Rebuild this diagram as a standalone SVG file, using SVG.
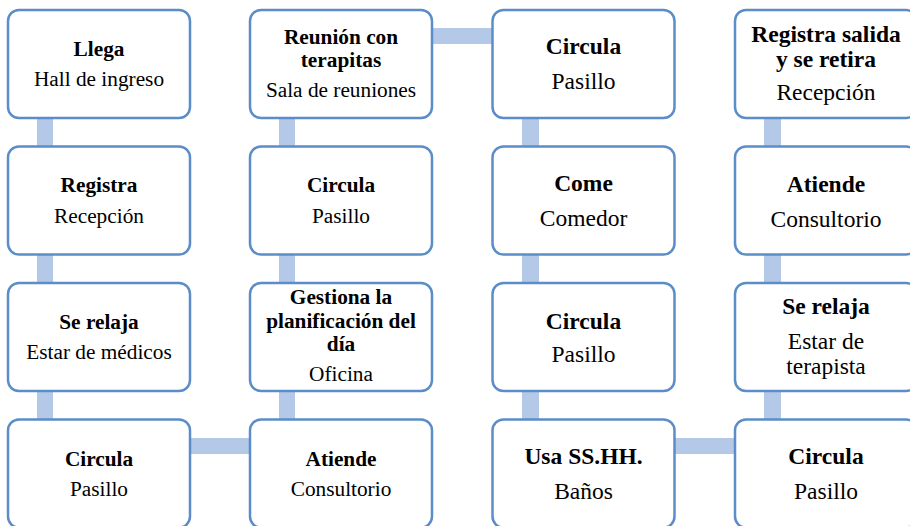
<svg xmlns="http://www.w3.org/2000/svg" width="910" height="526" viewBox="0 0 910 526">
<style>
.box{fill:#fff;stroke:#5B8DC8;stroke-width:2.5}
.con{fill:#B4C9E8}
text{fill:#000;text-anchor:middle}
.s{font-size:21.3px}
.l{font-size:23.5px}
.b{font-weight:bold}
</style>
<rect width="910" height="526" fill="#fff"/>
<g id="connectors">
<rect class="con" x="37" y="64" width="16" height="410"/>
<rect class="con" x="279" y="64" width="16" height="410"/>
<rect class="con" x="522" y="64" width="17" height="410"/>
<rect class="con" x="764" y="64" width="17" height="410"/>
<rect class="con" x="100" y="438" width="242" height="16"/>
<rect class="con" x="342" y="28" width="242" height="16"/>
<rect class="con" x="584" y="438" width="242" height="16"/>
</g>
<g id="nodes" font-family="'Liberation Serif', Tinos, 'Times New Roman', Times, 'DejaVu Serif', 'Noto Serif', serif">
<g id="n1"><rect class="box" x="8" y="10" width="182" height="108" rx="11"/>
<text class="s b" x="99" y="56">Llega</text><text class="s" x="99" y="86">Hall de ingreso</text></g>
<g id="n2"><rect class="box" x="8" y="146.5" width="182" height="108" rx="11"/>
<text class="s b" x="99" y="192">Registra</text><text class="s" x="99" y="222.5">Recepción</text></g>
<g id="n3"><rect class="box" x="8" y="283" width="182" height="108" rx="11"/>
<text class="s b" x="99" y="328.5">Se relaja</text><text class="s" x="99" y="358.5">Estar de médicos</text></g>
<g id="n4"><rect class="box" x="8" y="419.5" width="182" height="108" rx="11"/>
<text class="s b" x="99" y="466">Circula</text><text class="s" x="99" y="495.5">Pasillo</text></g>
<g id="n5"><rect class="box" x="250" y="419.5" width="182" height="108" rx="11"/>
<text class="s b" x="341" y="466">Atiende</text><text class="s" x="341" y="495.5">Consultorio</text></g>
<g id="n6"><rect class="box" x="250" y="283" width="182" height="108" rx="11"/>
<text class="s b" x="341" y="304">Gestiona la</text><text class="s b" x="341" y="327.5">planificación del</text><text class="s b" x="341" y="351">día</text><text class="s" x="341" y="381">Oficina</text></g>
<g id="n7"><rect class="box" x="250" y="146.5" width="182" height="108" rx="11"/>
<text class="s b" x="341" y="192">Circula</text><text class="s" x="341" y="222.5">Pasillo</text></g>
<g id="n8"><rect class="box" x="250" y="10" width="182" height="108" rx="11"/>
<text class="s b" x="341" y="43.5">Reunión con</text><text class="s b" x="341" y="67">terapitas</text><text class="s" x="341" y="96.5">Sala de reuniones</text></g>
<g id="n9"><rect class="box" x="492.5" y="10" width="182" height="108" rx="11"/>
<text class="l b" x="583.5" y="54">Circula</text><text class="l" x="583.5" y="88.5">Pasillo</text></g>
<g id="n10"><rect class="box" x="492.5" y="146.5" width="182" height="108" rx="11"/>
<text class="l b" x="583.5" y="191">Come</text><text class="l" x="583.5" y="226">Comedor</text></g>
<g id="n11"><rect class="box" x="492.5" y="283" width="182" height="108" rx="11"/>
<text class="l b" x="583.5" y="328.5">Circula</text><text class="l" x="583.5" y="361.5">Pasillo</text></g>
<g id="n12"><rect class="box" x="492.5" y="419.5" width="182" height="108" rx="11"/>
<text class="l b" x="583.5" y="463.5">Usa SS.HH.</text><text class="l" x="583.5" y="498.5">Baños</text></g>
<g id="n13"><rect class="box" x="735" y="419.5" width="182" height="108" rx="11"/>
<text class="l b" x="826" y="463.5">Circula</text><text class="l" x="826" y="498.5">Pasillo</text></g>
<g id="n14"><rect class="box" x="735" y="283" width="182" height="108" rx="11"/>
<text class="l b" x="826" y="314">Se relaja</text><text class="l" x="826" y="348.5">Estar de</text><text class="l" x="826" y="373.5">terapista</text></g>
<g id="n15"><rect class="box" x="735" y="146.5" width="182" height="108" rx="11"/>
<text class="l b" x="826" y="191.5">Atiende</text><text class="l" x="826" y="227">Consultorio</text></g>
<g id="n16"><rect class="box" x="735" y="10" width="182" height="108" rx="11"/>
<text class="l b" x="826" y="41.5">Registra salida</text><text class="l b" x="826" y="66.5">y se retira</text><text class="l" x="826" y="100">Recepción</text></g>
</g>
</svg>
